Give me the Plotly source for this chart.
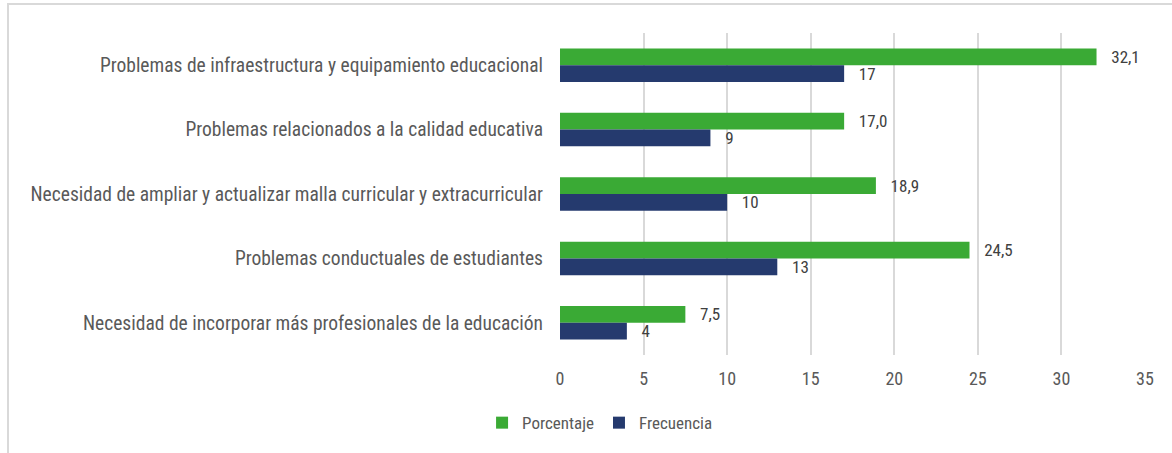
import plotly.graph_objects as go

categories = [
    "Problemas de infraestructura y equipamiento educacional",
    "Problemas relacionados a la calidad educativa",
    "Necesidad de ampliar y actualizar malla curricular y extracurricular",
    "Problemas conductuales de estudiantes",
    "Necesidad de incorporar más profesionales de la educación",
]
porcentaje = [32.1, 17.0, 18.9, 24.5, 7.5]
frecuencia = [17, 9, 10, 13, 4]
x_ticks = [0, 5, 10, 15, 20, 25, 30, 35]

FONT = "Roboto Condensed, Liberation Sans, Arial, sans-serif"
GREEN = "#3aaa35"
NAVY = "#253a6e"
TXT = "#595959"
VAL = "#404040"

def fmt_pct(v):
    return "   " + f"{v:.1f}".replace(".", ",")

fig = go.Figure()
fig.add_trace(go.Bar(
    y=categories, x=porcentaje, orientation="h", name="Porcentaje",
    marker=dict(color=GREEN, line=dict(width=0)),
    text=[fmt_pct(v) for v in porcentaje], textposition="outside",
    textfont=dict(family=FONT, size=17, color=VAL), cliponaxis=False,
    constraintext="none",
))
fig.add_trace(go.Bar(
    y=categories, x=frecuencia, orientation="h", name="Frecuencia",
    marker=dict(color=NAVY, line=dict(width=0)),
    text=["   " + str(v) for v in frecuencia], textposition="outside",
    textfont=dict(family=FONT, size=17, color=VAL), cliponaxis=False,
    constraintext="none",
))

L, R, T, B = 560, 27, 33, 98
pw = 1172 - L - R
ph = 453 - T - B

fig.update_layout(
    width=1172, height=453,
    margin=dict(l=L, r=R, t=T, b=B, pad=0),
    paper_bgcolor="white", plot_bgcolor="white",
    barmode="group", bargap=0.48, bargroupgap=0,
    font=dict(family=FONT, size=16, color=TXT),
    xaxis=dict(range=[0, 35], tickvals=x_ticks, showgrid=True, gridcolor="#d9d9d9",
               gridwidth=1.5, zeroline=False, showline=False, ticks="",
               tickfont=dict(size=18, color=TXT), ticklabelstandoff=11, automargin=False),
    yaxis=dict(autorange="reversed", showgrid=False, showline=False, ticks="",
               tickfont=dict(size=19.5, color=TXT), ticklabelstandoff=16, automargin=False),
    legend=dict(orientation="h", xref="container", yref="container",
                x=0.512, xanchor="center", y=0.066, yanchor="middle",
                font=dict(size=17, color=TXT), itemwidth=30, traceorder="normal"),
    showlegend=True,
)

fig.add_shape(type="rect", xref="paper", yref="paper",
              x0=(8 - L) / pw, x1=(1200 - L) / pw,
              y0=(453 - B - 470) / ph, y1=(453 - B - 4) / ph,
              line=dict(color="#d9d9d9", width=2), fillcolor="rgba(0,0,0,0)", layer="below")

fig.write_html("out.html", config={"displayModeBar": False},
               post_script="document.body.style.margin='0';")
